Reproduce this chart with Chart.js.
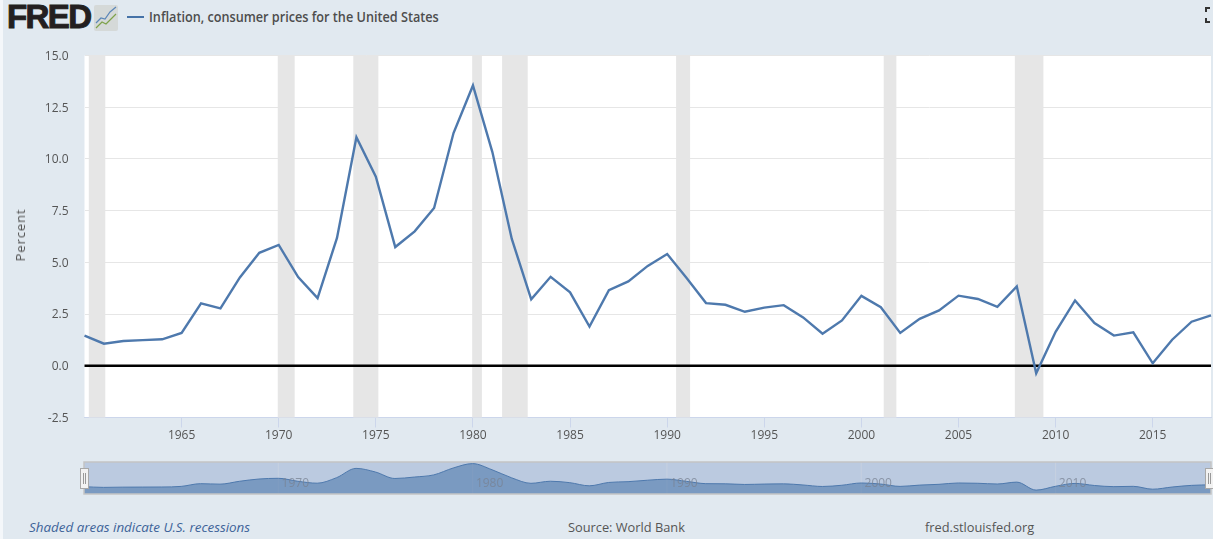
<!DOCTYPE html>
<html><head><meta charset="utf-8">
<style>
html,body{margin:0;padding:0;background:#f4f7fa;overflow:hidden}
#page{position:absolute;left:3px;top:0;width:1210px;height:539px;background:#e1e9f0}
canvas{position:absolute}
.t{position:absolute;white-space:nowrap;font-family:"Open Sans",sans-serif;color:#555}
</style>
<script src="https://cdn.jsdelivr.net/npm/chart.js@4"></script>
</head><body>
<div id="page"></div>
<div class="t" style="left:7px;top:-4px;font:900 33px/42px 'Liberation Sans',sans-serif;color:#231f20;letter-spacing:-1.6px;-webkit-text-stroke:1px #231f20">FRED</div>
<svg style="position:absolute;left:94px;top:5px" width="24" height="26"><rect width="24" height="26" rx="2" fill="#d5d9d8"/><polyline points="2,18 7,13 11,14 16,7 22,2" fill="none" stroke="#5b86b8" stroke-width="1.2"/><polyline points="2,23 8,17 12,19 17,14 22,9" fill="none" stroke="#7ea24a" stroke-width="1.2"/></svg>
<div style="position:absolute;left:127px;top:16px;width:17px;height:2px;background:#4572a7"></div>
<div class="t" id="lg" style="left:149px;top:8px;font-size:13.4px;line-height:18px;font-weight:600;transform-origin:0 0;transform:scaleX(.946);color:#4d4d4d">Inflation, consumer prices for the United States</div>
<div class="t" style="left:29px;top:518px;font-size:13.4px;line-height:18px;font-style:italic;color:#3d6399">Shaded areas indicate U.S. recessions</div>
<div class="t" style="left:568px;top:518px;font-size:12.8px;line-height:18px;color:#555">Source: World Bank</div>
<div class="t" style="left:925px;top:518px;font-size:12.8px;line-height:18px;color:#555">fred.stlouisfed.org</div>
<svg style="position:absolute;left:1204px;top:6px" width="8" height="18"><path d="M1 1h5v2h-3v3h-2z M1 12h2v3h3v2h-5z" fill="#333"/></svg>
<canvas id="main" style="left:0;top:0"></canvas>
<canvas id="nav" style="left:0;top:0"></canvas>
<script>
const years=[1960,1961,1962,1963,1964,1965,1966,1967,1968,1969,1970,1971,1972,1973,1974,1975,1976,1977,1978,1979,1980,1981,1982,1983,1984,1985,1986,1987,1988,1989,1990,1991,1992,1993,1994,1995,1996,1997,1998,1999,2000,2001,2002,2003,2004,2005,2006,2007,2008,2009,2010,2011,2012,2013,2014,2015,2016,2017,2018];
const inflation=[1.46,1.07,1.20,1.24,1.28,1.59,3.02,2.77,4.27,5.46,5.84,4.29,3.27,6.18,11.05,9.14,5.74,6.50,7.63,11.25,13.55,10.33,6.13,3.21,4.30,3.55,1.90,3.66,4.08,4.83,5.40,4.24,3.03,2.95,2.61,2.81,2.93,2.34,1.55,2.19,3.38,2.83,1.59,2.27,2.68,3.39,3.23,2.85,3.84,-0.36,1.64,3.16,2.07,1.46,1.62,0.12,1.26,2.13,2.44];
const recessionStart=[1960.22,1969.95,1973.84,1979.96,1981.5,1990.46,2001.15,2007.9];
const recessionEnd=[1961.07,1970.82,1975.13,1980.46,1982.82,1991.18,2001.8,2009.37];
const xTickYears=[1965,1970,1975,1980,1985,1990,1995,2000,2005,2010,2015];
const navTickYears=[1970,1980,1990,2000,2010];
const seriesLabel='Inflation, consumer prices for the United States';
const W=1213,H=539;
const FONT='"Open Sans",sans-serif';
Chart.defaults.animation=false;
Chart.defaults.responsive=false;

const points=years.map((y,i)=>({x:y,y:inflation[i]}));
const recessions={id:'recessions',beforeDatasetsDraw(c){
  const {ctx,chartArea:a,scales:{x}}=c;ctx.save();ctx.fillStyle='#e6e6e6';
  recessionStart.forEach((s,i)=>{const l=x.getPixelForValue(s),r=x.getPixelForValue(recessionEnd[i]);ctx.fillRect(l,a.top,r-l,a.bottom-a.top);});
  ctx.restore();}};
const plotBg={id:'plotBg',beforeDraw(c){const {ctx,chartArea:a}=c;ctx.save();ctx.fillStyle='#fff';ctx.fillRect(a.left,a.top,a.right-a.left,a.bottom-a.top);ctx.restore();}};
const zeroLine={id:'zeroLine',beforeDatasetsDraw(c){const {ctx,chartArea:a,scales:{y}}=c;const p=y.getPixelForValue(0);ctx.save();ctx.strokeStyle='#000';ctx.lineWidth=2.5;ctx.beginPath();ctx.moveTo(a.left,p);ctx.lineTo(a.right,p);ctx.stroke();ctx.restore();}};

const mc=document.getElementById('main');mc.width=W;mc.height=H;
new Chart(mc,{type:'line',
 data:{datasets:[{label:seriesLabel,data:points,borderColor:'#4e79ad',borderWidth:2.4,pointRadius:0,tension:0,clip:false}]},
 plugins:[plotBg,recessions,zeroLine],
 options:{layout:{padding:{left:0,top:55.5,right:2,bottom:H-417.5-45}},
  plugins:{legend:{display:false},tooltip:{enabled:false}},
  scales:{
   x:{type:'linear',position:'bottom',min:1960,max:2018,afterBuildTicks(s){s.ticks=xTickYears.map(v=>({value:v}));},
      grid:{display:true,drawOnChartArea:false,drawTicks:true,tickLength:10,color:'#ccd6eb'},border:{color:'#ccd6eb',width:1},
      ticks:{font:{family:FONT,size:12},color:'#555',maxRotation:0,autoSkip:false,padding:1,callback:v=>String(v)},
      afterFit(s){s.height=45;}},
   y:{min:-2.5,max:15,afterBuildTicks(s){s.ticks=[-2.5,0,2.5,5,7.5,10,12.5,15].map(v=>({value:v}));},
      grid:{color:'#e6e6e6',drawTicks:false},border:{display:false},
      ticks:{font:{family:FONT,size:12},color:'#555',padding:16,labelOffset:1,callback:v=>v.toFixed(1)},
      afterFit(s){s.width=84.5;}}
  }},
 });
const nc=document.getElementById('nav');nc.width=W;nc.height=H;
const navOverlay={id:'navOverlay',
 beforeDatasetsDraw(c){const {ctx,chartArea:a,scales:{x}}=c;ctx.save();ctx.fillStyle='#bbcae0';ctx.fillRect(a.left,a.top,a.right-a.left,a.bottom-a.top);
   ctx.strokeStyle='#c6d0e0';ctx.lineWidth=1;navTickYears.forEach(v=>{const p=x.getPixelForValue(v);ctx.beginPath();ctx.moveTo(p,a.top);ctx.lineTo(p,a.bottom);ctx.stroke();});ctx.restore();},
 afterDatasetsDraw(c){const {ctx,chartArea:a,scales:{x}}=c;ctx.save();
   ctx.font='12px '+FONT;ctx.fillStyle='rgba(120,130,145,.75)';ctx.textAlign='center';ctx.textBaseline='middle';
   navTickYears.forEach(v=>ctx.fillText(String(v),x.getPixelForValue(v)+17,a.top+22));
   ctx.strokeStyle='#c4c4c4';ctx.lineWidth=1.5;ctx.strokeRect(a.left,a.top,a.right-a.left,a.bottom-a.top);
   [a.left,a.right-2].forEach(px=>{ctx.fillStyle='#f2f2f2';ctx.strokeStyle='#a8a8a8';ctx.lineWidth=1;ctx.fillRect(px-4,468,8,20);ctx.strokeRect(px-4+.5,468.5,8,20);
     ctx.strokeStyle='#999';[-1,1].forEach(d=>{ctx.beginPath();ctx.moveTo(px+d+.5,473);ctx.lineTo(px+d+.5,484);ctx.stroke();});});
   ctx.restore();}};
new Chart(nc,{type:'line',
 data:{datasets:[{data:points,borderColor:'#4e79ad',borderWidth:1,backgroundColor:'rgba(69,114,167,.55)',fill:'start',pointRadius:0,cubicInterpolationMode:'monotone'}]},
 plugins:[navOverlay],
 options:{layout:{padding:{left:0,top:462,right:2,bottom:H-494}},
  plugins:{legend:{display:false},tooltip:{enabled:false}},
  scales:{x:{type:'linear',min:1960,max:2018,display:true,grid:{display:false},border:{display:false},ticks:{display:false},afterFit(s){s.height=0;}},
          y:{min:-2.4,max:14.4,display:true,grid:{display:false},border:{display:false},ticks:{display:false},afterFit(s){s.width=84;}}}}
});
</script>
<div class="t" style="left:20px;top:235px;font-size:13px;line-height:14px;letter-spacing:.9px;color:#555;transform:translate(-50%,-50%) rotate(-90deg)">Percent</div>
</body></html>
